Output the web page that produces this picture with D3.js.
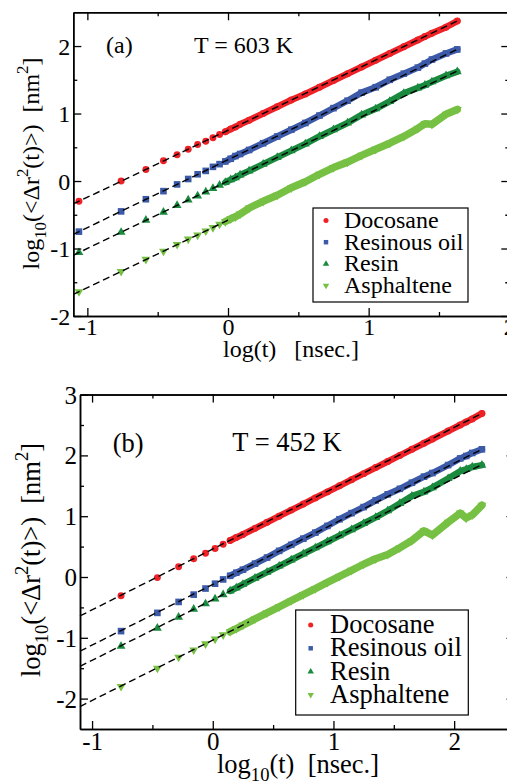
<!DOCTYPE html>
<html><head><meta charset="utf-8">
<script src="https://cdn.jsdelivr.net/npm/d3@7"></script>
<style>
body{margin:0;background:#fff}
</style>
</head><body>
<svg id="chart" width="507" height="782"></svg>
<script>
// ---------------- data ----------------
const seriesNames = ["Docosane", "Resinous oil", "Resin", "Asphaltene"];
const seriesColors = ["#ee2127", "#3c5aa8", "#1a8a3e", "#76c043"];

const xMajorTicks = [-1, 0, 1, 2];
const xMinorTicks = [-0.5, 0.5, 1.5];
const topYMajorTicks = [-2, -1, 0, 1, 2];
const topYMinorTicks = [-1.5, -0.5, 0.5, 1.5];
const botYMajorTicks = [-2, -1, 0, 1, 2, 3];
const botYMinorTicks = [-1.5, -0.5, 0.5, 1.5, 2.5];

// panel (a): T = 603 K   (x = log10 t [nsec])
const topLogT = [-1.06, -0.76, -0.584, -0.459, -0.362, -0.283, -0.216, -0.158, -0.107, -0.06, -0.019, 0.019, 0.053, 0.086,
  0.15, 0.25, 0.35, 0.45, 0.55, 0.65, 0.75, 0.85, 0.95, 1.05, 1.15, 1.25, 1.35, 1.40, 1.45, 1.55, 1.63];
const topDocosane = [-0.30, 0.00, 0.17, 0.30, 0.39, 0.47, 0.54, 0.59, 0.64, 0.69, 0.73, 0.77, 0.80, 0.84,
  0.90, 1.00, 1.10, 1.20, 1.29, 1.39, 1.49, 1.59, 1.69, 1.79, 1.89, 1.99, 2.09, 2.14, 2.19, 2.28, 2.37];
const topResinousOil = [-0.75, -0.45, -0.27, -0.15, -0.05, 0.03, 0.10, 0.15, 0.21, 0.25, 0.29, 0.33, 0.37, 0.40,
  0.46, 0.56, 0.66, 0.76, 0.86, 0.97, 1.08, 1.19, 1.31, 1.39, 1.50, 1.59, 1.68, 1.74, 1.80, 1.89, 1.95];
const topResin = [-1.06, -0.76, -0.58, -0.46, -0.36, -0.28, -0.22, -0.16, -0.11, -0.06, -0.02, 0.02, 0.05, 0.09,
  0.15, 0.25, 0.35, 0.45, 0.55, 0.66, 0.76, 0.86, 0.98, 1.07, 1.18, 1.30, 1.38, 1.42, 1.47, 1.56, 1.62];
const topAsphaltene = [-1.64, -1.34, -1.16, -1.04, -0.94, -0.86, -0.80, -0.74, -0.69, -0.64, -0.60, -0.56, -0.53, -0.49,
  -0.40, -0.30, -0.21, -0.10, -0.01, 0.10, 0.20, 0.28, 0.38, 0.47, 0.56, 0.66, 0.78, 0.85, 0.84, 0.99, 1.06];
// linear fits: [x start, x end] and [y start, y end]
const topFitX = [[-1.1, 1.63], [-1.1, 1.63], [-1.1, 1.63], [-1.1, 0.0]];
const topFitY = [[-0.34, 2.37], [-0.79, 1.95], [-1.10, 1.63], [-1.68, -0.58]];

// panel (b): T = 452 K
const botLogT = [-0.76, -0.459, -0.283, -0.158, -0.06, 0.019, 0.086, 0.144, 0.195,
  0.25, 0.35, 0.45, 0.55, 0.65, 0.75, 0.85, 0.95, 1.05, 1.15, 1.25, 1.35, 1.45, 1.55, 1.65, 1.75, 1.82, 1.95, 2.05, 2.10, 2.15, 2.23];
const botDocosane = [-0.31, -0.01, 0.17, 0.30, 0.39, 0.47, 0.54, 0.60, 0.65,
  0.70, 0.80, 0.90, 1.00, 1.10, 1.20, 1.30, 1.40, 1.50, 1.60, 1.70, 1.80, 1.90, 2.00, 2.10, 2.20, 2.27, 2.40, 2.50, 2.55, 2.60, 2.69];
const botResinousOil = [-0.89, -0.59, -0.41, -0.29, -0.19, -0.11, -0.04, 0.02, 0.07,
  0.12, 0.22, 0.32, 0.43, 0.53, 0.63, 0.73, 0.84, 0.95, 1.05, 1.15, 1.26, 1.36, 1.45, 1.55, 1.65, 1.71, 1.84, 1.95, 1.99, 2.04, 2.10];
const botResin = [-1.14, -0.84, -0.66, -0.53, -0.44, -0.36, -0.29, -0.23, -0.18,
  -0.12, -0.02, 0.08, 0.18, 0.28, 0.38, 0.48, 0.58, 0.68, 0.78, 0.88, 0.98, 1.09, 1.21, 1.33, 1.40, 1.47, 1.62, 1.74, 1.77, 1.81, 1.84];
const botAsphaltene = [-1.80, -1.50, -1.32, -1.20, -1.10, -1.02, -0.95, -0.90, -0.85,
  -0.79, -0.69, -0.59, -0.49, -0.39, -0.29, -0.19, -0.09, 0.01, 0.11, 0.21, 0.30, 0.37, 0.48, 0.60, 0.76, 0.69, 0.90, 1.05, 0.97, 1.02, 1.18];
const botFitX = [[-1.1, 2.23], [-1.1, 2.23], [-1.1, 2.23], [-1.1, 0.3]];
const botFitY = [[-0.64, 2.69], [-1.22, 2.10], [-1.47, 1.85], [-2.13, -0.74]];

// ---------------- drawing ----------------
const FONT = '"Liberation Serif", "Times New Roman", Times, serif';
const svg = d3.select("#chart");
svg.append("rect").attr("width", 507).attr("height", 782).attr("fill", "#fff");

const symbolTypes = [d3.symbolCircle, d3.symbolSquare, d3.symbolTriangle, d3.symbolTriangle];
const symbolRot = [0, 0, 0, 180];

function drawPanel(cfg) {
  const g = svg.append("g");
  const x = d3.scaleLinear().domain(cfg.xDomain).range(cfg.xRange);
  const y = d3.scaleLinear().domain(cfg.yDomain).range(cfg.yRange);
  const fs = cfg.fontSize;

  // series
  cfg.series.forEach((vals, i) => {
    const pts = cfg.logT.map((t, j) => [t, vals[j]]);
    const dense = pts.filter(p => p[0] >= cfg.bandFrom);
    g.append("path").datum(dense)
      .attr("d", d3.line().x(d => x(d[0])).y(d => y(d[1])))
      .attr("fill", "none").attr("stroke", seriesColors[i])
      .attr("stroke-width", i === 3 ? 7.5 : 6.5)
      .attr("stroke-linejoin", "round").attr("stroke-linecap", "round");
    const sym = d3.symbol().type(symbolTypes[i]).size([38, 44, 34, 34][i]);
    g.append("g").selectAll("path").data(pts).join("path")
      .attr("transform", d => `translate(${x(d[0])},${y(d[1])}) rotate(${symbolRot[i]})`)
      .attr("d", sym).attr("fill", seriesColors[i]);
  });

  // fit lines
  cfg.fitX.forEach((fx, i) => {
    g.append("line")
      .attr("x1", x(fx[0])).attr("y1", y(cfg.fitY[i][0]))
      .attr("x2", x(fx[1])).attr("y2", y(cfg.fitY[i][1]))
      .attr("stroke", "#000").attr("stroke-width", 1.4)
      .attr("stroke-dasharray", "7,4");
  });

  // axes
  const [x0, x1] = cfg.xRange, [y0, y1] = cfg.yRange; // y0 bottom, y1 top
  function styleAxis(sel, fsz) {
    sel.attr("font-family", null).attr("font-size", null);
    sel.selectAll("path.domain").attr("stroke", "#000").attr("stroke-width", 1.5);
    sel.selectAll(".tick line").attr("stroke", "#000").attr("stroke-width", 1.3);
    sel.selectAll(".tick text").style("font-size", fsz + "px").attr("fill", "#000");
  }
  const fmt = d => (d < 0 ? "-" : "") + Math.abs(d);
  let a = g.append("g").attr("transform", `translate(0,${y0})`)
    .call(d3.axisBottom(x).tickValues(xMajorTicks).tickSizeInner(-8).tickSizeOuter(0).tickPadding(cfg.xPad).tickFormat(fmt));
  styleAxis(a, cfg.tickFont);
  a = g.append("g").attr("transform", `translate(0,${y0})`)
    .call(d3.axisBottom(x).tickValues(xMinorTicks).tickSizeInner(-4).tickSizeOuter(0).tickFormat(""));
  styleAxis(a, cfg.tickFont);
  a = g.append("g").attr("transform", `translate(0,${y1})`)
    .call(d3.axisTop(x).tickValues(xMajorTicks).tickSizeInner(-8).tickSizeOuter(0).tickFormat(""));
  styleAxis(a, cfg.tickFont);
  a = g.append("g").attr("transform", `translate(0,${y1})`)
    .call(d3.axisTop(x).tickValues(xMinorTicks).tickSizeInner(-4).tickSizeOuter(0).tickFormat(""));
  styleAxis(a, cfg.tickFont);
  a = g.append("g").attr("transform", `translate(${x0},0)`)
    .call(d3.axisLeft(y).tickValues(cfg.yMajor).tickSizeInner(-8).tickSizeOuter(0).tickPadding(cfg.yPad).tickFormat(fmt));
  styleAxis(a, cfg.tickFont);
  a.selectAll(".tick text").attr("dy", "0.34em");
  a = g.append("g").attr("transform", `translate(${x0},0)`)
    .call(d3.axisLeft(y).tickValues(cfg.yMinor).tickSizeInner(-4).tickSizeOuter(0).tickFormat(""));
  styleAxis(a, cfg.tickFont);
  a = g.append("g").attr("transform", `translate(${x1},0)`)
    .call(d3.axisRight(y).tickValues(cfg.yMajor).tickSizeInner(-8).tickSizeOuter(0).tickFormat(""));
  styleAxis(a, cfg.tickFont);
  a = g.append("g").attr("transform", `translate(${x1},0)`)
    .call(d3.axisRight(y).tickValues(cfg.yMinor).tickSizeInner(-4).tickSizeOuter(0).tickFormat(""));
  styleAxis(a, cfg.tickFont);

  // annotations
  g.append("text").attr("x", cfg.tagPos[0]).attr("y", cfg.tagPos[1]).style("font-size", fs + "px").text(cfg.tag);
  g.append("text").attr("x", cfg.tempPos[0]).attr("y", cfg.tempPos[1]).style("font-size", fs + "px").text(cfg.temp);

  // x label
  const xl = g.append("text").attr("x", cfg.xLabelPos[0]).attr("y", cfg.xLabelPos[1])
    .style("font-size", fs + "px").attr("text-anchor", "middle");
  if (cfg.xLabelSub) {
    xl.append("tspan").text("log");
    xl.append("tspan").style("font-size", fs * 0.7 + "px").attr("dy", fs * 0.3).text("10");
    xl.append("tspan").attr("dy", -fs * 0.3).text("(t)\u00a0\u00a0[nsec.]");
  } else {
    xl.append("tspan").text("log(t)\u00a0\u00a0\u00a0[nsec.]");
  }

  // y label
  const yl = g.append("text").attr("transform", `translate(${cfg.yLabelPos[0]},${cfg.yLabelPos[1]}) rotate(-90)`)
    .style("font-size", fs + "px").attr("text-anchor", "middle");
  yl.append("tspan").text("log");
  yl.append("tspan").style("font-size", fs * 0.7 + "px").attr("dy", fs * 0.3).text("10");
  yl.append("tspan").attr("dy", -fs * 0.3).text("(<\u0394r");
  yl.append("tspan").style("font-size", fs * 0.7 + "px").attr("dy", -fs * 0.45).text("2");
  yl.append("tspan").attr("dy", fs * 0.45).text("(t)>)\u00a0\u00a0[nm");
  yl.append("tspan").style("font-size", fs * 0.7 + "px").attr("dy", -fs * 0.45).text("2");
  yl.append("tspan").attr("dy", fs * 0.45).text("]");

  // legend
  const L = cfg.legend;
  const lg = g.append("g");
  lg.append("rect").attr("x", L.box[0]).attr("y", L.box[1]).attr("width", L.box[2]).attr("height", L.box[3])
    .attr("fill", "#fff").attr("stroke", "#000").attr("stroke-width", 1.2);
  seriesNames.forEach((name, i) => {
    const by = L.firstBaseline + i * L.step;
    const sym = d3.symbol().type(symbolTypes[i]).size([20, 20, 18, 18][i]);
    lg.append("path").attr("transform", `translate(${L.markerX},${by - L.markerLift}) rotate(${symbolRot[i]})`)
      .attr("d", sym).attr("fill", seriesColors[i]);
    lg.append("text").attr("x", L.textX).attr("y", by).style("font-size", L.font + "px").text(name);
  });
}

drawPanel({
  xDomain: [-1.1, 2], xRange: [73.3, 509.3],
  yDomain: [-2, 2.5], yRange: [316, 12.3],
  logT: topLogT,
  series: [topDocosane, topResinousOil, topResin, topAsphaltene],
  fitX: topFitX, fitY: topFitY, bandFrom: -0.02,
  yMajor: topYMajorTicks, yMinor: topYMinorTicks,
  fontSize: 24, tickFont: 24, xPad: 2, yPad: 3,
  tag: "(a)", tagPos: [106, 53], temp: "T = 603 K", tempPos: [194, 53],
  xLabelPos: [291, 357], xLabelSub: false, yLabelPos: [38.5, 163.5],
  legend: { box: [313, 208, 155, 94], markerX: 326, textX: 344, firstBaseline: 228, step: 21.7, markerLift: 7.5, font: 24 }
});

drawPanel({
  xDomain: [-1.1, 2.5], xRange: [80, 514.5],
  yDomain: [-2.5, 3], yRange: [729, 394.6],
  logT: botLogT,
  series: [botDocosane, botResinousOil, botResin, botAsphaltene],
  fitX: botFitX, fitY: botFitY, bandFrom: 0.14,
  yMajor: botYMajorTicks, yMinor: botYMinorTicks,
  fontSize: 26.5, tickFont: 25, xPad: 3, yPad: 3,
  tag: "(b)", tagPos: [112.7, 451.5], temp: "T = 452 K", tempPos: [232.3, 451],
  xLabelPos: [298, 773], xLabelSub: true, yLabelPos: [40, 560],
  legend: { box: [295.7, 610, 172.6, 105], markerX: 310.7, textX: 330, firstBaseline: 633, step: 23.3, markerLift: 8, font: 26.5 }
});

// force the serif family on every text element
svg.selectAll("text").style("font-family", FONT).attr("fill", "#000");
</script>
</body></html>
